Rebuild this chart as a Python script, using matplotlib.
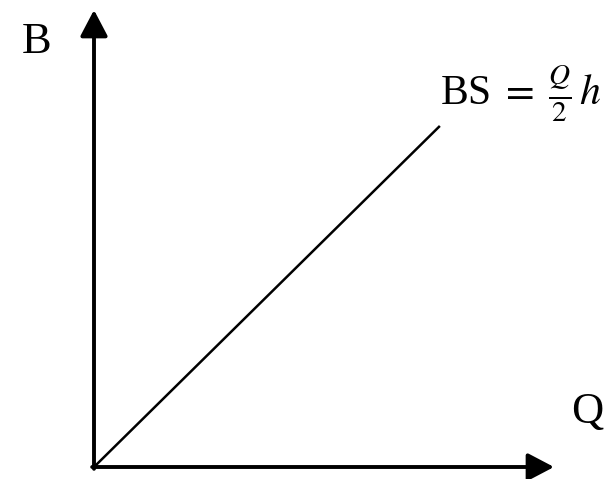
import matplotlib
matplotlib.use("Agg")
import matplotlib.pyplot as plt

plt.rcParams["font.family"] = ["Liberation Serif", "DejaVu Serif"]
plt.rcParams["mathtext.fontset"] = "stix"

# the straight line BS = Q/2 * h (arbitrary units)
q = [0, 10]
bs = [0, 10]
q_max, b_max = 13.3, 13.4

fig = plt.figure(figsize=(6.09, 4.79), dpi=100)
ax = fig.add_axes([94 / 609, 12 / 479, 460 / 609, 457 / 479])
ax.plot(q, bs, color="black", lw=1.8, solid_capstyle="butt")
ax.set_xlim(0, q_max)
ax.set_ylim(0, b_max)
ax.axis("off")

arrow = dict(arrowstyle="-|>,head_length=0.8,head_width=0.42",
             lw=2.8, color="black", mutation_scale=20, shrinkA=0, shrinkB=0)
ax.annotate("", xy=(1, 0), xytext=(-0.004, 0), xycoords="axes fraction",
            arrowprops=arrow)
ax.annotate("", xy=(0, 1), xytext=(0, -0.004), xycoords="axes fraction",
            arrowprops=arrow)

ax.text(-0.124, 0.93, "B", transform=ax.transAxes, fontsize=32,
        ha="center", va="center")
ax.text(1.072, 0.12, "Q", transform=ax.transAxes, fontsize=32,
        ha="center", va="center")
ax.text(0.752, 0.792, r"BS$\;=\;\frac{Q}{2}\,h$", transform=ax.transAxes,
        fontsize=30, ha="left", va="baseline")

fig.savefig("out.png", dpi=100, facecolor="white")
